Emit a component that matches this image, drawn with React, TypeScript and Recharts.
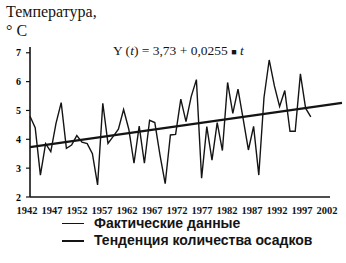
import { LineChart, Line, XAxis, YAxis } from "recharts";

document.body.style.margin = "0";

// Annual temperature, first point 1942
const tempValues = [
  4.8, 4.4, 2.76, 3.85, 3.57, 4.55, 5.27, 3.69, 3.8, 4.13,
  3.9, 3.85, 3.5, 2.42, 5.25, 3.86, 4.1, 4.35, 5.03, 4.35,
  3.17, 4.46, 3.17, 4.66, 4.58, 3.45, 2.46, 4.15, 4.17, 5.39,
  4.61, 5.48, 6.07, 2.65, 4.44, 3.28, 4.58, 3.61, 5.97, 4.9,
  5.74, 4.7, 3.63, 4.45, 2.76, 5.45, 6.75, 5.85, 5.14, 5.69,
  4.28, 4.28, 6.27, 5.08, 4.78,
];

// Trend line Y(t) = 3,73 + 0,0255*t, t = 0..60
const trendT = [0, 60];
const trendValues = [3.73, 5.26];

const yearTicks = [1942, 1947, 1952, 1957, 1962, 1967, 1972, 1977, 1982, 1987, 1992, 1997, 2002];
const tempTicks = [2, 3, 4, 5, 6, 7];
// x axis baseline runs from the first to the last labelled year
const baseYears = [1942, 2002];

const actualName = "Фактические данные";
const trendName = "Тенденция количества осадков";

const ink = "#141414";
const serif = "'Liberation Serif', 'DejaVu Serif', serif";
const sans = "'Liberation Sans', Arial, sans-serif";

export default function App() {
  const actualData = tempValues.map((v, i) => ({ t: i, temp: v }));
  const trendData = trendT.map((t, i) => ({ t, trend: trendValues[i] }));
  const baseData = baseYears.map((year) => ({ year, base: tempTicks[0] }));

  return (
    <div style={{ position: "relative", width: 346, height: 263, background: "#fff", fontFamily: serif, color: ink }}>
      <div style={{ position: "absolute", left: 6, top: 2, fontSize: 16, lineHeight: "19px" }}>
        Температура,
        <br />
        ° C
      </div>
      <div style={{ position: "absolute", left: 113, top: 43, fontSize: 13.5, whiteSpace: "nowrap" }}>
        Y (<i>t</i>) = 3,73 + 0,0255 <span style={{ fontSize: 9 }}>■</span> <i>t</i>
      </div>

      <LineChart width={346} height={263} margin={{ top: 47, right: 4, left: 0, bottom: 46 }}>
        <XAxis
          xAxisId="year"
          dataKey="year"
          type="number"
          domain={[1942, 2004.4]}
          ticks={yearTicks}
          allowDataOverflow
          axisLine={false}
          tickLine={false}
          height={20}
          tickMargin={4}
          interval={0}
          tick={{ fill: ink, fontSize: 10.5, fontFamily: serif, fontWeight: "bold", dx: -3 }}
        />
        <XAxis xAxisId="t" dataKey="t" type="number" domain={[0, 60]} height={0} hide />
        <YAxis
          domain={[2, 7.2]}
          ticks={tempTicks}
          width={30}
          axisLine={{ stroke: ink, strokeWidth: 1.6 }}
          tickLine={{ stroke: ink, strokeWidth: 1.2 }}
          tickSize={4}
          tickMargin={5}
          tick={{ fill: "#000", fontSize: 10, fontFamily: serif, fontWeight: "bold" }}
        />
        <Line
          xAxisId="year"
          data={baseData}
          dataKey="base"
          type="linear"
          stroke={ink}
          strokeWidth={1.6}
          dot={false}
          legendType="none"
          isAnimationActive={false}
        />
        <Line
          xAxisId="t"
          data={actualData}
          dataKey="temp"
          name={actualName}
          type="linear"
          stroke={ink}
          strokeWidth={1.4}
          dot={false}
          isAnimationActive={false}
        />
        <Line
          xAxisId="t"
          data={trendData}
          dataKey="trend"
          name={trendName}
          type="linear"
          stroke={ink}
          strokeWidth={2.2}
          dot={false}
          isAnimationActive={false}
        />
      </LineChart>

      <div style={{ position: "absolute", left: 62, top: 215, fontFamily: sans, fontSize: 14, fontWeight: "bold", lineHeight: "17px" }}>
        {[actualName, trendName].map((name, i) => (
          <div key={name} style={{ display: "flex", alignItems: "center" }}>
            <span style={{ display: "inline-block", width: 22, height: 0, borderTop: `${i === 0 ? 1 : 2}px solid ${ink}`, marginRight: 10 }} />
            <span>{name}</span>
          </div>
        ))}
      </div>
    </div>
  );
}
